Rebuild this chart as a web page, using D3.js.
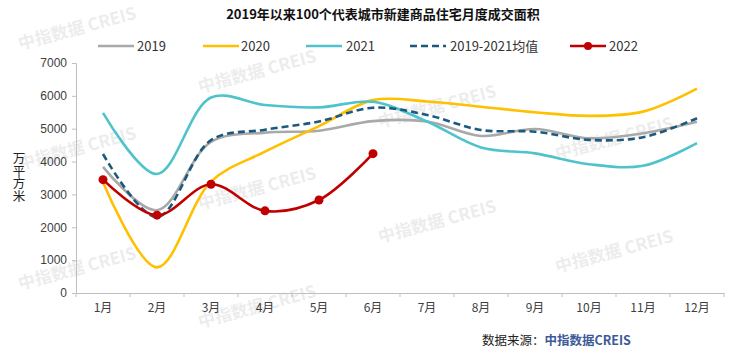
<!DOCTYPE html>
<html><head><meta charset="utf-8">
<script src="https://cdn.jsdelivr.net/npm/d3@7/dist/d3.min.js"></script>
<style>body{margin:0;background:#fff}svg{display:block}</style>
</head><body>
<svg id="c" width="740" height="364"></svg>
<script>
const months = ["1月","2月","3月","4月","5月","6月","7月","8月","9月","10月","11月","12月"];
const yTicks = [0,1000,2000,3000,4000,5000,6000,7000];
const s2019 = [3840,2520,4600,4880,4940,5230,5220,4780,4990,4710,4860,5210];
const s2020 = [3370,780,3390,4300,5080,5870,5830,5670,5500,5390,5520,6220];
const s2021 = [5480,3620,5950,5720,5650,5820,5220,4430,4250,3920,3870,4560];
const sAvg  = [4230,2310,4650,4970,5220,5640,5420,4960,4910,4660,4740,5320];
const s2022 = [3450,2370,3310,2500,2830,4240];
const seriesNames = ["2019","2020","2021","2019-2021均值","2022"];

const svg = d3.select("#c");
const x = d3.scaleBand().domain(months).range([76,724]).padding(0);
const y = d3.scaleLinear().domain([0,7000]).range([293,63]);
const cx = m => x(m) + x.bandwidth()/2;

// watermarks (behind)
const wm = [[20,50],[200,93],[380,128],[557,160],[20,170],[200,210],[380,243],[557,273],[20,290],[200,328]];
svg.append("g").selectAll("text").data(wm).join("text")
  .attr("transform",d=>`translate(${d[0]},${d[1]}) rotate(-15)`)
  .attr("font-family","'Noto Sans CJK SC',sans-serif").attr("font-weight","bold")
  .attr("font-size",17).attr("fill","#000").attr("opacity",0.07)
  .text("中指数据 CREIS");

// title
svg.append("text").attr("x",383).attr("y",19).attr("text-anchor","middle")
  .attr("font-family","'Noto Sans CJK SC',sans-serif").attr("font-weight","bold")
  .attr("font-size",13).attr("fill","#111").text("2019年以来100个代表城市新建商品住宅月度成交面积");

// y axis
const yAxis = svg.append("g").attr("transform","translate(76,0)")
  .call(d3.axisLeft(y).tickValues(yTicks).tickSize(4).tickPadding(5).tickFormat(d3.format("d")));
yAxis.select(".domain").attr("stroke","#bfbfbf");
yAxis.selectAll(".tick line").attr("stroke","#bfbfbf");
yAxis.selectAll("text").attr("font-family","'Liberation Sans Narrow','Liberation Sans',sans-serif")
  .attr("font-size",12).attr("fill","#404040");

// x axis
const xAxis = svg.append("g").attr("transform","translate(0,293)")
  .call(d3.axisBottom(x).tickSize(0).tickPadding(10));
xAxis.select(".domain").attr("stroke","#bfbfbf");
xAxis.selectAll("text").attr("font-family","'Liberation Sans Narrow','Noto Sans CJK SC',sans-serif")
  .attr("font-size",12).attr("fill","#404040");
svg.append("g").selectAll("line").data(d3.range(13)).join("line")
  .attr("x1",i=>76+i*x.bandwidth()).attr("x2",i=>76+i*x.bandwidth())
  .attr("y1",293).attr("y2",297).attr("stroke","#bfbfbf");

// y label vertical
svg.append("text").attr("x",19).attr("y",152)
  .attr("font-family","'Noto Sans CJK SC',sans-serif")
  .attr("font-size",12.5).attr("fill","#222")
  .style("writing-mode","vertical-rl").style("text-orientation","upright")
  .attr("letter-spacing",0).text("万平方米");

// lines
const line = d3.line().x((d,i)=>cx(months[i])).y(d=>y(d)).curve(d3.curveCatmullRom.alpha(0.5));
const defs = [
  {data:s2019,color:"#a9a9a9",dash:null},
  {data:s2020,color:"#ffc000",dash:null},
  {data:s2021,color:"#4fc3cc",dash:null},
  {data:sAvg,color:"#1b5a7e",dash:"7,4"},
  {data:s2022,color:"#c00000",dash:null}
];
defs.forEach(s=>{
  svg.append("path").datum(s.data).attr("d",line).attr("fill","none")
    .attr("stroke",s.color).attr("stroke-width",2.6).attr("stroke-dasharray",s.dash);
});
svg.append("g").selectAll("circle").data(s2022).join("circle")
  .attr("cx",(d,i)=>cx(months[i])).attr("cy",d=>y(d)).attr("r",4.5).attr("fill","#c00000");

// legend
const legX = [98,203,306,410,570];
const legTX = [137,241,346,450,609];
const lg = svg.append("g");
defs.forEach((s,i)=>{
  lg.append("line").attr("x1",legX[i]).attr("x2",legX[i]+36).attr("y1",46).attr("y2",46)
    .attr("stroke",s.color).attr("stroke-width",2.6).attr("stroke-dasharray",s.dash);
  if(i===4) lg.append("circle").attr("cx",legX[i]+18).attr("cy",46).attr("r",4).attr("fill",s.color);
  lg.append("text").attr("x",legTX[i]).attr("y",50.5)
    .attr("font-family","'Liberation Sans Narrow','Noto Sans CJK SC',sans-serif")
    .attr("font-size",13).attr("fill","#333").text(seriesNames[i]);
});

// source
const src = svg.append("text").attr("x",482).attr("y",345)
  .attr("font-family","'Noto Sans CJK SC',sans-serif").attr("font-size",12.5);
src.append("tspan").attr("fill","#222").text("数据来源：");
src.append("tspan").attr("fill","#3d5a98").attr("font-weight","bold").text("中指数据CREIS");
</script>
</body></html>
